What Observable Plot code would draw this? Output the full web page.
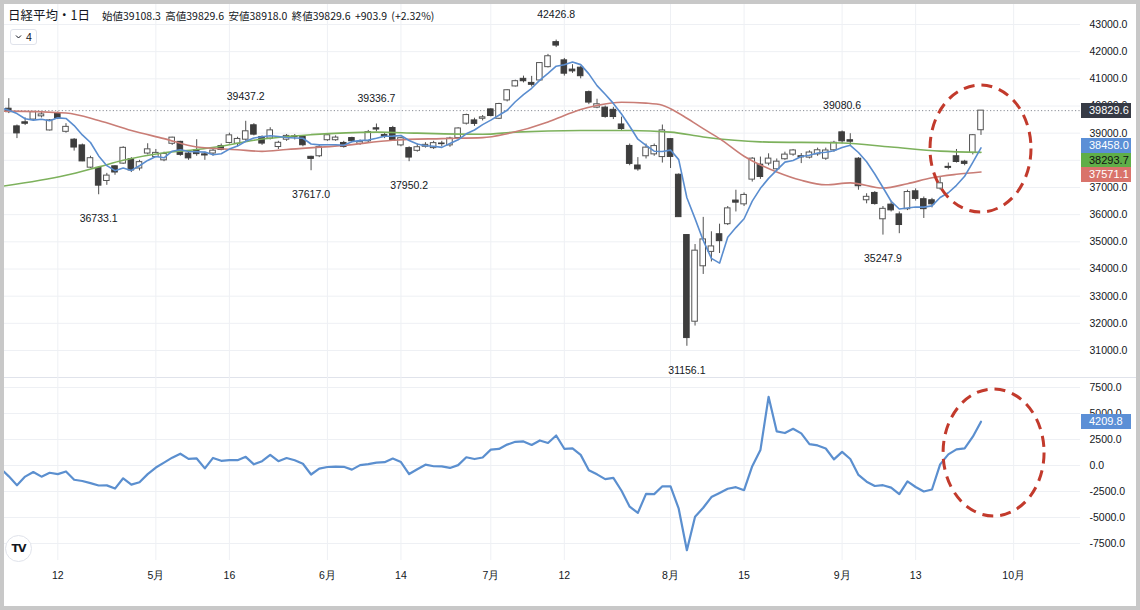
<!DOCTYPE html>
<html><head><meta charset="utf-8">
<script src="https://cdn.jsdelivr.net/npm/d3@7"></script>
<script src="https://cdn.jsdelivr.net/npm/@observablehq/plot@0.6"></script>
<style>
body{margin:0;background:#fff;}
#frame{position:relative;width:1140px;height:610px;box-sizing:border-box;border:4px solid #c8c8c8;background:#fff;overflow:hidden;font-family:"Liberation Sans",Arial,sans-serif;color:#131722;}
#topc,#botc{position:absolute;left:0;}
#topc{top:0;} #botc{top:373px;}
#sep{position:absolute;left:0;top:373px;width:1132px;height:1px;background:#e0e3eb;}
.lbl{position:absolute;left:1077px;width:50px;height:15px;line-height:15px;font-size:11px;padding-left:8px;box-sizing:border-box;font-family:"Liberation Sans",Arial,sans-serif;}
#title{position:absolute;left:4px;top:3px;font-family:"Noto Sans CJK JP",sans-serif;font-size:12.5px;line-height:16px;color:#131722;}
#ohlc{position:absolute;left:98px;top:5px;font-family:"Noto Sans CJK JP",sans-serif;font-size:10.5px;line-height:14px;color:#131722;word-spacing:2px;}
#ind{position:absolute;left:6px;top:25px;width:27px;height:16px;border:1px solid #e0e3eb;border-radius:3px;background:#fff;box-sizing:border-box;font-size:10.5px;}
#logo{position:absolute;left:1px;top:531px;width:27px;height:27px;border-radius:50%;border:1px solid #e0e3eb;background:#fff;box-sizing:border-box;text-align:center;line-height:25px;font-weight:bold;font-size:11px;letter-spacing:-1px;font-family:"DejaVu Sans",sans-serif;}
#ov{position:absolute;left:0;top:0;pointer-events:none;}
</style></head>
<body>
<div id="frame">
  <div id="topc"></div>
  <div id="sep"></div>
  <div id="botc"></div>
  <div id="title">日経平均・1日</div>
  <div id="ohlc">始値39108.3 高値39829.6 安値38918.0 終値39829.6 +903.9 (+2.32%)</div>
  <div id="ind"><svg width="25" height="14" style="position:absolute;left:0;top:0"><path d="M5 5.5 L7.5 8 L10 5.5" fill="none" stroke="#131722" stroke-width="1"/><text x="15" y="10.5" font-size="10.5" fill="#131722" font-family="Liberation Sans">4</text></svg></div>
  <div id="logo">TV</div>
</div>
<script>
// ---- data ----
const opens = [39900,39250,39400,39500,39620,39100,39730,39050,38760,38550, 37730,37720,37240,37780,37880,38040,37700,38250,38120,38000, 38610,38680,38250,38370,38220,38250,38520,38640,38610,38760, 39290,38860,38800,38490,38760,38880,38860,38130,38150,38740, 38740,38640,38820,38610,38700,39180,38930,39190,38550,38450, 38350,38500,38450,38620,38550,38820,39350,39470,39530,39875, 39530,40205,40720,41000,40850,40940,41430,42350,41680,41340, 41410,40510,39940,39940,39860,39320,38530,37810,38150,38220, 38120,38780,37470,35250,32060,34100,34630,35280,35650,36520, 36380,37290,37840,37880,37670,38040,38210,38150,38100,38220, 38060,38370,39030,38740,38060,36530,36800,35830,36370,36010, 36200,36860,36570,36530,36960,37760,38150,37950,38270,39108.3];
const highs = [40270,39300,39560,39800,39770,39500,39780,39350,38800,38600, 38150,37720,37520,37800,38500,38100,38000,38610,38400,38300, 38850,38700,38300,38760,38300,38400,38600,39000,38850,39437.2, 39350,38900,39200,38700,38950,38950,38900,38150,38550,38950, 38900,38700,38850,38750,39100,39336.7,39000,39250,38850,38500, 38600,38650,38700,38700,38850,39200,39700,39550,39650,39900, 40100,40600,40950,41100,41090,41600,41900,42426.8,41750,41520, 41450,40550,40250,40000,39950,39590,38600,38100,38600,38600, 39300,38800,37500,35250,34900,35900,35370,35650,36300,36900, 36800,38100,38120,38240,38050,38300,38400,38250,38350,38450, 38450,38700,39080.6,38980,38100,36770,36850,36300,36500,36100, 36900,36950,36650,36600,37400,37900,38400,38000,38950,39829.6];
const lows = [39720,38800,39280,39480,39560,39080,39500,39000,38340,37950, 37700,36733.1,37080,37450,37850,37550,37610,38200,38100,37950, 38550,38150,38000,38150,38000,38150,38350,38600,38500,38700, 38900,38550,38750,38400,38700,38750,38500,37617.0,38100,38700, 38700,38450,38650,38550,38650,39050,38800,38700,38500,37950.2, 38300,38450,38400,38500,38480,38800,39300,39250,39450,39600, 39500,40150,40700,40850,40700,40900,41400,42150,41100,41200, 41000,40050,39900,39550,39500,39100,37800,37600,38050,38150, 37900,37700,35900,31156.1,31900,33800,34260,34570,35600,36100, 36300,37200,37300,37800,37600,38000,38150,37880,38050,38150, 38000,38300,38600,38550,36900,36400,36350,35247.9,36100,35300, 36150,36500,35860,36250,36900,37650,37900,37800,38200,38918.0];
const closes = [39773,38992,39347,39773,39690,39470,39540,39232,38471,37961, 38079,37068,37438,37552,38460,37628,37934,38405,38274,38236, 38835,38202,38073,38229,38179,38356,38385,38920,38787,39069, 38946,38617,39103,38646,38900,38855,38556,38054,38487,38923, 38837,38490,38703,38683,39038,39134,38876,38720,38814,38102, 38482,38570,38633,38596,38804,39173,39667,39341,39583,39631, 40074,40580,40913,40912,40780,41580,41831,42224,41190,41275, 41097,40126,40063,39599,39594,39154,37869,37667,38468,38525, 39101,38126,35909,31458,34675,35089,34831,35025,36232,36442, 36726,38062,37388,38063,37951,38211,38364,38110,38288,38371, 38362,38647,38700,38686,37047,36657,36391,36215,36159,35619, 36833,36581,36203,36380,37155,37723,37940,37870,38925,39829.6];

// 5-day MA (blue), first value is one bar before the first candle
const ma5Start = -1;
const ma5 = [39926,39847,39720,39530,39480,39515,39454,39564,39541,39281, 38935,38657,38162,37803,37620,37719,37629,37802,37996,38140, 38095,38337,38390,38324,38315,38304,38208,38244,38414,38525, 38703,38821,38868,38904,38876,38842,38824,38812,38602,38570, 38575,38571,38558,38688,38727,38750,38810,38887,38890,38916, 38729,38599,38538,38520,38477,38617,38755,38975,39116,39314, 39479,39659,39842,40156,40422,40652,40953,41203,41465,41521, 41620,41523,41182,40750,40432,40096,39707,39256,38777,38550, 38337,38326,38377,38026,36624,35854,35051,34392,34216,35170, 35524,35851,36497,36970,37336,37638,37935,37995,38140,38185, 38269,38299,38356,38474,38553,38288,37947,37496,36999,36494, 36208,36243,36281,36279,36323,36630,36808,37080,37414,37923, 38458.0];

// 25-day MA (red), sampled along the line
const ma25Idx = [-1,0,7,11,15,19,23,28,31,34,41,47,53,58,61,66,68,70,72,75,78,80,81,83,85,87,90,94,97,100,103,107,110,113,116,119];
const ma25Val = [39800,39810,39740,39470,39100,38800,38490,38390,38330,38400,38550,38740,38800,38835,38980,39410,39650,39875,40020,40140,40105,40030,39900,39550,39165,38800,38150,37570,37265,37100,37170,36980,37140,37360,37485,37571.1];

// 75-day MA (green), sampled along the line
const ma75Idx = [-1,7,11,14,19,23,26,30,37,45,50,58,62,70,76,81,85,92,102,108,114,119];
const ma75Val = [37040,37450,37760,38000,38280,38400,38520,38740,38945,39040,39000,38960,39040,39100,39100,39040,38860,38680,38640,38490,38340,38293.7];

// lower indicator (blue line), first value is one bar before the first candle
const momStart = -1;
const momentum = [-280,-1042,-1896,-1067,-625,-1072,-698,-829,-571,-1367, -1490,-1694,-1924,-1909,-2221,-1230,-1842,-1606,-827,-197, 275,756,1134,635,677,-281,728,451,515,513, 833,111,415,1030,417,721,499,171,-866,-300, -146,-109,-127,-400,37,138,279,320,666,327, -821,-355,80,-70,-87,-234,39,791,621,769, 1529,1592,2010,2280,2316,1976,2407,2164,2883,1607, 1644,1023,-454,-850,-1313,-1186,-2426,-3962,-4557,-2722, -2750,-1996,-2000,-4154,-8141,-4919,-4065,-3038,-2642,-2236, -2083,-2375,-64,1479,6605,3276,3122,3533,3085,2056, 1929,1636,585,1312,623,-904,-1554,-1973,-1895,-2129, -2752,-1529,-2066,-2497,-2306,108,1066,1549,1655,2766, 4209.8];

// annotated highs / lows (bar indices)
const highMarks = [29,45,67,102];
const lowMarks = [11,37,49,83,107];

// time axis
const tickIdx = [6,18,27,39,48,59,68,81,90,102,111,123];
const tickLabels = ["12","5月","16","6月","14","7月","12","8月","15","9月","13","10月"];
const priceTicks = [31000,32000,33000,34000,35000,36000,37000,38000,39000,40000,41000,42000,43000];
const momTicks = [-7500,-5000,-2500,0,2500,5000,7500];

// right-axis value tags
const lastPrice = 39829.6;
const maTags = [
  {v: 38458.0, bg: "#5b8fd6", fg: "#ffffff"},
  {v: 38293.7, bg: "#5fae48", fg: "#111111"},
  {v: 37571.1, bg: "#d9736b", fg: "#ffffff"}
];
const momLast = 4209.8;

// ---- build tables ----
const candles = opens.map((o, i) => ({i, open: o, high: highs[i], low: lows[i], close: closes[i]}));
const ma5Pts = ma5.map((v, k) => ({i: k + ma5Start, v}));
const ma25Pts = ma25Idx.map((i, k) => ({i, v: ma25Val[k]}));
const ma75Pts = ma75Idx.map((i, k) => ({i, v: ma75Val[k]}));
const momPts = momentum.map((v, k) => ({i: k + momStart, v}));
const hiPts = highMarks.map(i => ({i, v: highs[i]}));
const loPts = lowMarks.map(i => ({i, v: lows[i]}));
const labelOf = new Map(tickIdx.map((t, k) => [t, tickLabels[k]]));

const xDomain = [-0.526, 131.18];
const grid = "#eef0f4";
const W = 1132;
const fontStyle = {fontFamily: "Liberation Sans, Arial, sans-serif", fontSize: "10.5px", color: "#131722", background: "transparent", overflow: "visible"};

const topChart = Plot.plot({
  width: W, height: 373,
  marginTop: 0, marginBottom: 0, marginLeft: 0, marginRight: 56,
  style: fontStyle,
  x: {domain: xDomain, axis: null},
  y: {domain: [30006.4, 43736.2], axis: "right", ticks: priceTicks, tickFormat: d => d.toFixed(1), tickSize: 0, tickPadding: 9, label: null},
  marks: [
    Plot.ruleY(priceTicks, {stroke: grid}),
    Plot.ruleX(tickIdx, {stroke: grid}),
    Plot.ruleY([lastPrice], {stroke: "#8a8d96", strokeDasharray: "1.2,2.2"}),
    Plot.ruleX(candles, {x: "i", y1: "low", y2: "high", stroke: "#505050", strokeWidth: 1}),
    Plot.rect(candles, {x1: d => d.i - 0.34, x2: d => d.i + 0.34, y1: "open", y2: "close",
      fill: d => d.close >= d.open ? "#ffffff" : "#3d3d3d", stroke: d => d.close >= d.open ? "#555555" : "#3d3d3d", strokeWidth: 1}),
    Plot.line(ma75Pts, {x: "i", y: "v", stroke: "#7db15c", strokeWidth: 1.6, curve: "monotone-x", clip: true}),
    Plot.line(ma25Pts, {x: "i", y: "v", stroke: "#c97d76", strokeWidth: 1.6, curve: "monotone-x", clip: true}),
    Plot.line(ma5Pts, {x: "i", y: "v", stroke: "#5a8dcf", strokeWidth: 1.6, clip: true}),
    Plot.text(hiPts, {x: "i", y: "v", text: d => d.v.toFixed(1), dy: -25, fill: "#131722", fontSize: 10.5}),
    Plot.text(loPts, {x: "i", y: "v", text: d => d.v.toFixed(1), dy: 24, fill: "#131722", fontSize: 10.5})
  ]
});
document.getElementById("topc").appendChild(topChart);

const botChart = Plot.plot({
  width: W, height: 229,
  marginTop: 0, marginBottom: 46, marginLeft: 0, marginRight: 56,
  style: fontStyle,
  x: {domain: xDomain, ticks: tickIdx, tickFormat: d => labelOf.get(d), tickSize: 0, tickPadding: 11, label: null},
  y: {domain: [-9134.6, 8461.5], axis: "right", ticks: momTicks, tickFormat: d => d.toFixed(1), tickSize: 0, tickPadding: 9, label: null},
  marks: [
    Plot.ruleY(momTicks, {stroke: grid}),
    Plot.ruleX(tickIdx, {stroke: grid}),
    Plot.line(momPts, {x: "i", y: "v", stroke: "#5b8fcf", strokeWidth: 2.2, clip: true})
  ]
});
document.getElementById("botc").appendChild(botChart);

// ---- overlays positioned through the plots' scales ----
const frame = document.getElementById("frame");
const ty = topChart.scale("y"), tx = topChart.scale("x");
const by = botChart.scale("y"), bx = botChart.scale("x");

function tag(y, text, bg, fg) {
  const d = document.createElement("div");
  d.className = "lbl";
  d.style.top = (y - 7.5) + "px";
  d.style.background = bg;
  d.style.color = fg;
  d.textContent = text;
  frame.appendChild(d);
}
tag(ty.apply(lastPrice), lastPrice.toFixed(1), "#363a45", "#ffffff");
let ys = maTags.map(t => ty.apply(t.v));
for (let k = 1; k < ys.length; k++) ys[k] = Math.max(ys[k], ys[k - 1] + 14.5);
ys = ys.map(y => y - 1.5);
maTags.forEach((t, k) => tag(ys[k], t.v.toFixed(1), t.bg, t.fg));
tag(373 + by.apply(momLast), momLast.toFixed(1), "#5b8fd6", "#ffffff");

// red dashed rings around the latest move
const ns = "http://www.w3.org/2000/svg";
const ov = document.createElementNS(ns, "svg");
ov.setAttribute("id", "ov");
ov.setAttribute("width", W); ov.setAttribute("height", 602);
const rings = [
  {cx: tx.apply(119), cy: ty.apply(38417)},
  {cx: bx.apply(120.6), cy: 373 + by.apply(1202)}
];
rings.forEach(r => {
  const e = document.createElementNS(ns, "ellipse");
  e.setAttribute("cx", r.cx); e.setAttribute("cy", r.cy);
  e.setAttribute("rx", 50.5); e.setAttribute("ry", 63.5);
  e.setAttribute("fill", "none"); e.setAttribute("stroke", "#c23a2c");
  e.setAttribute("stroke-width", 3); e.setAttribute("stroke-dasharray", "11 7");
  ov.appendChild(e);
});
frame.appendChild(ov);
</script>
</body></html>
